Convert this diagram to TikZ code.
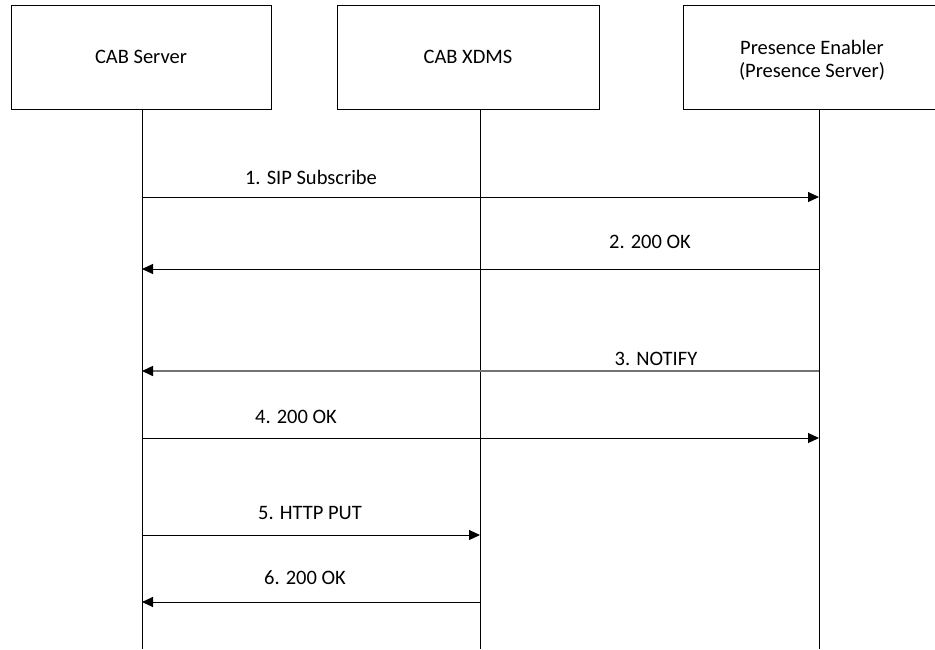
\documentclass[tikz,border=0pt]{standalone}
\usepackage{fontspec}
\setmainfont{Carlito}
\usetikzlibrary{arrows.meta}
\begin{document}
\begin{tikzpicture}[x=1pt,y=-1pt,
  entity/.style={draw=black,line width=1pt,minimum height=104pt,inner sep=0pt,align=center,font=\fontsize{20.5}{23}\selectfont},
  life/.style={draw=black,line width=1pt},
  msg/.style={draw=black,line width=1pt,-{Triangle[length=11pt,width=10pt]}},
  msggray/.style={draw=black!55,line width=1.6pt,-{Triangle[length=11pt,width=10pt,fill=black,color=black]}},
  lbl/.style={font=\fontsize{20.5}{24}\selectfont,inner sep=0pt}]
\useasboundingbox (0,0) rectangle (935,649);
\fill[white] (0,0) rectangle (935,649);
\node[entity,minimum width=260pt] (cs) at (141,57) {CAB Server};
\node[entity,minimum width=262pt] (xd) at (468,57) {CAB XDMS};
\node[entity,minimum width=258pt,minimum height=104pt] (pe) at (812,57) {};
\node[font=\fontsize{20.5}{23}\selectfont,align=center,inner sep=0pt] (pet) at (812,60) {Presence Enabler\\(Presence Server)};
% lifelines
\coordinate (l1t) at (142,109); \coordinate (l1b) at (142,649);
\coordinate (l2t) at (480,109); \coordinate (l2b) at (480,649);
\coordinate (l3t) at (819,109); \coordinate (l3b) at (819,649);
\draw[life] (l1t) -- (l1b);
\draw[life] (l2t) -- (l2b);
\draw[life] (l3t) -- (l3b);
% message anchor points
\coordinate (a1) at (142,197); \coordinate (c1) at (819,197);
\coordinate (a2) at (142,269); \coordinate (c2) at (819,269);
\coordinate (a3) at (142,371); \coordinate (c3) at (819,371);
\coordinate (a4) at (142,438); \coordinate (c4) at (819,438);
\coordinate (a5) at (142,535); \coordinate (b5) at (480,535);
\coordinate (a6) at (142,602); \coordinate (b6) at (480,602);
\draw[msg] (a1) -- (c1);
\draw[msg] (c2) -- (a2);
\draw[msggray] (c3) -- (a3);
\draw[msg] (a4) -- (c4);
\draw[msg] (a5) -- (b5);
\draw[msg] (b6) -- (a6);
% labels
\node[lbl] (t1) at (311,177) {1. SIP Subscribe};
\node[lbl] (t2) at (650,242) {2. 200 OK};
\node[lbl] (t3) at (656,359) {3. NOTIFY};
\node[lbl] (t4) at (296,417) {4. 200 OK};
\node[lbl] (t5) at (310,513) {5. HTTP PUT};
\node[lbl] (t6) at (305,578) {6. 200 OK};
\end{tikzpicture}
\end{document}
